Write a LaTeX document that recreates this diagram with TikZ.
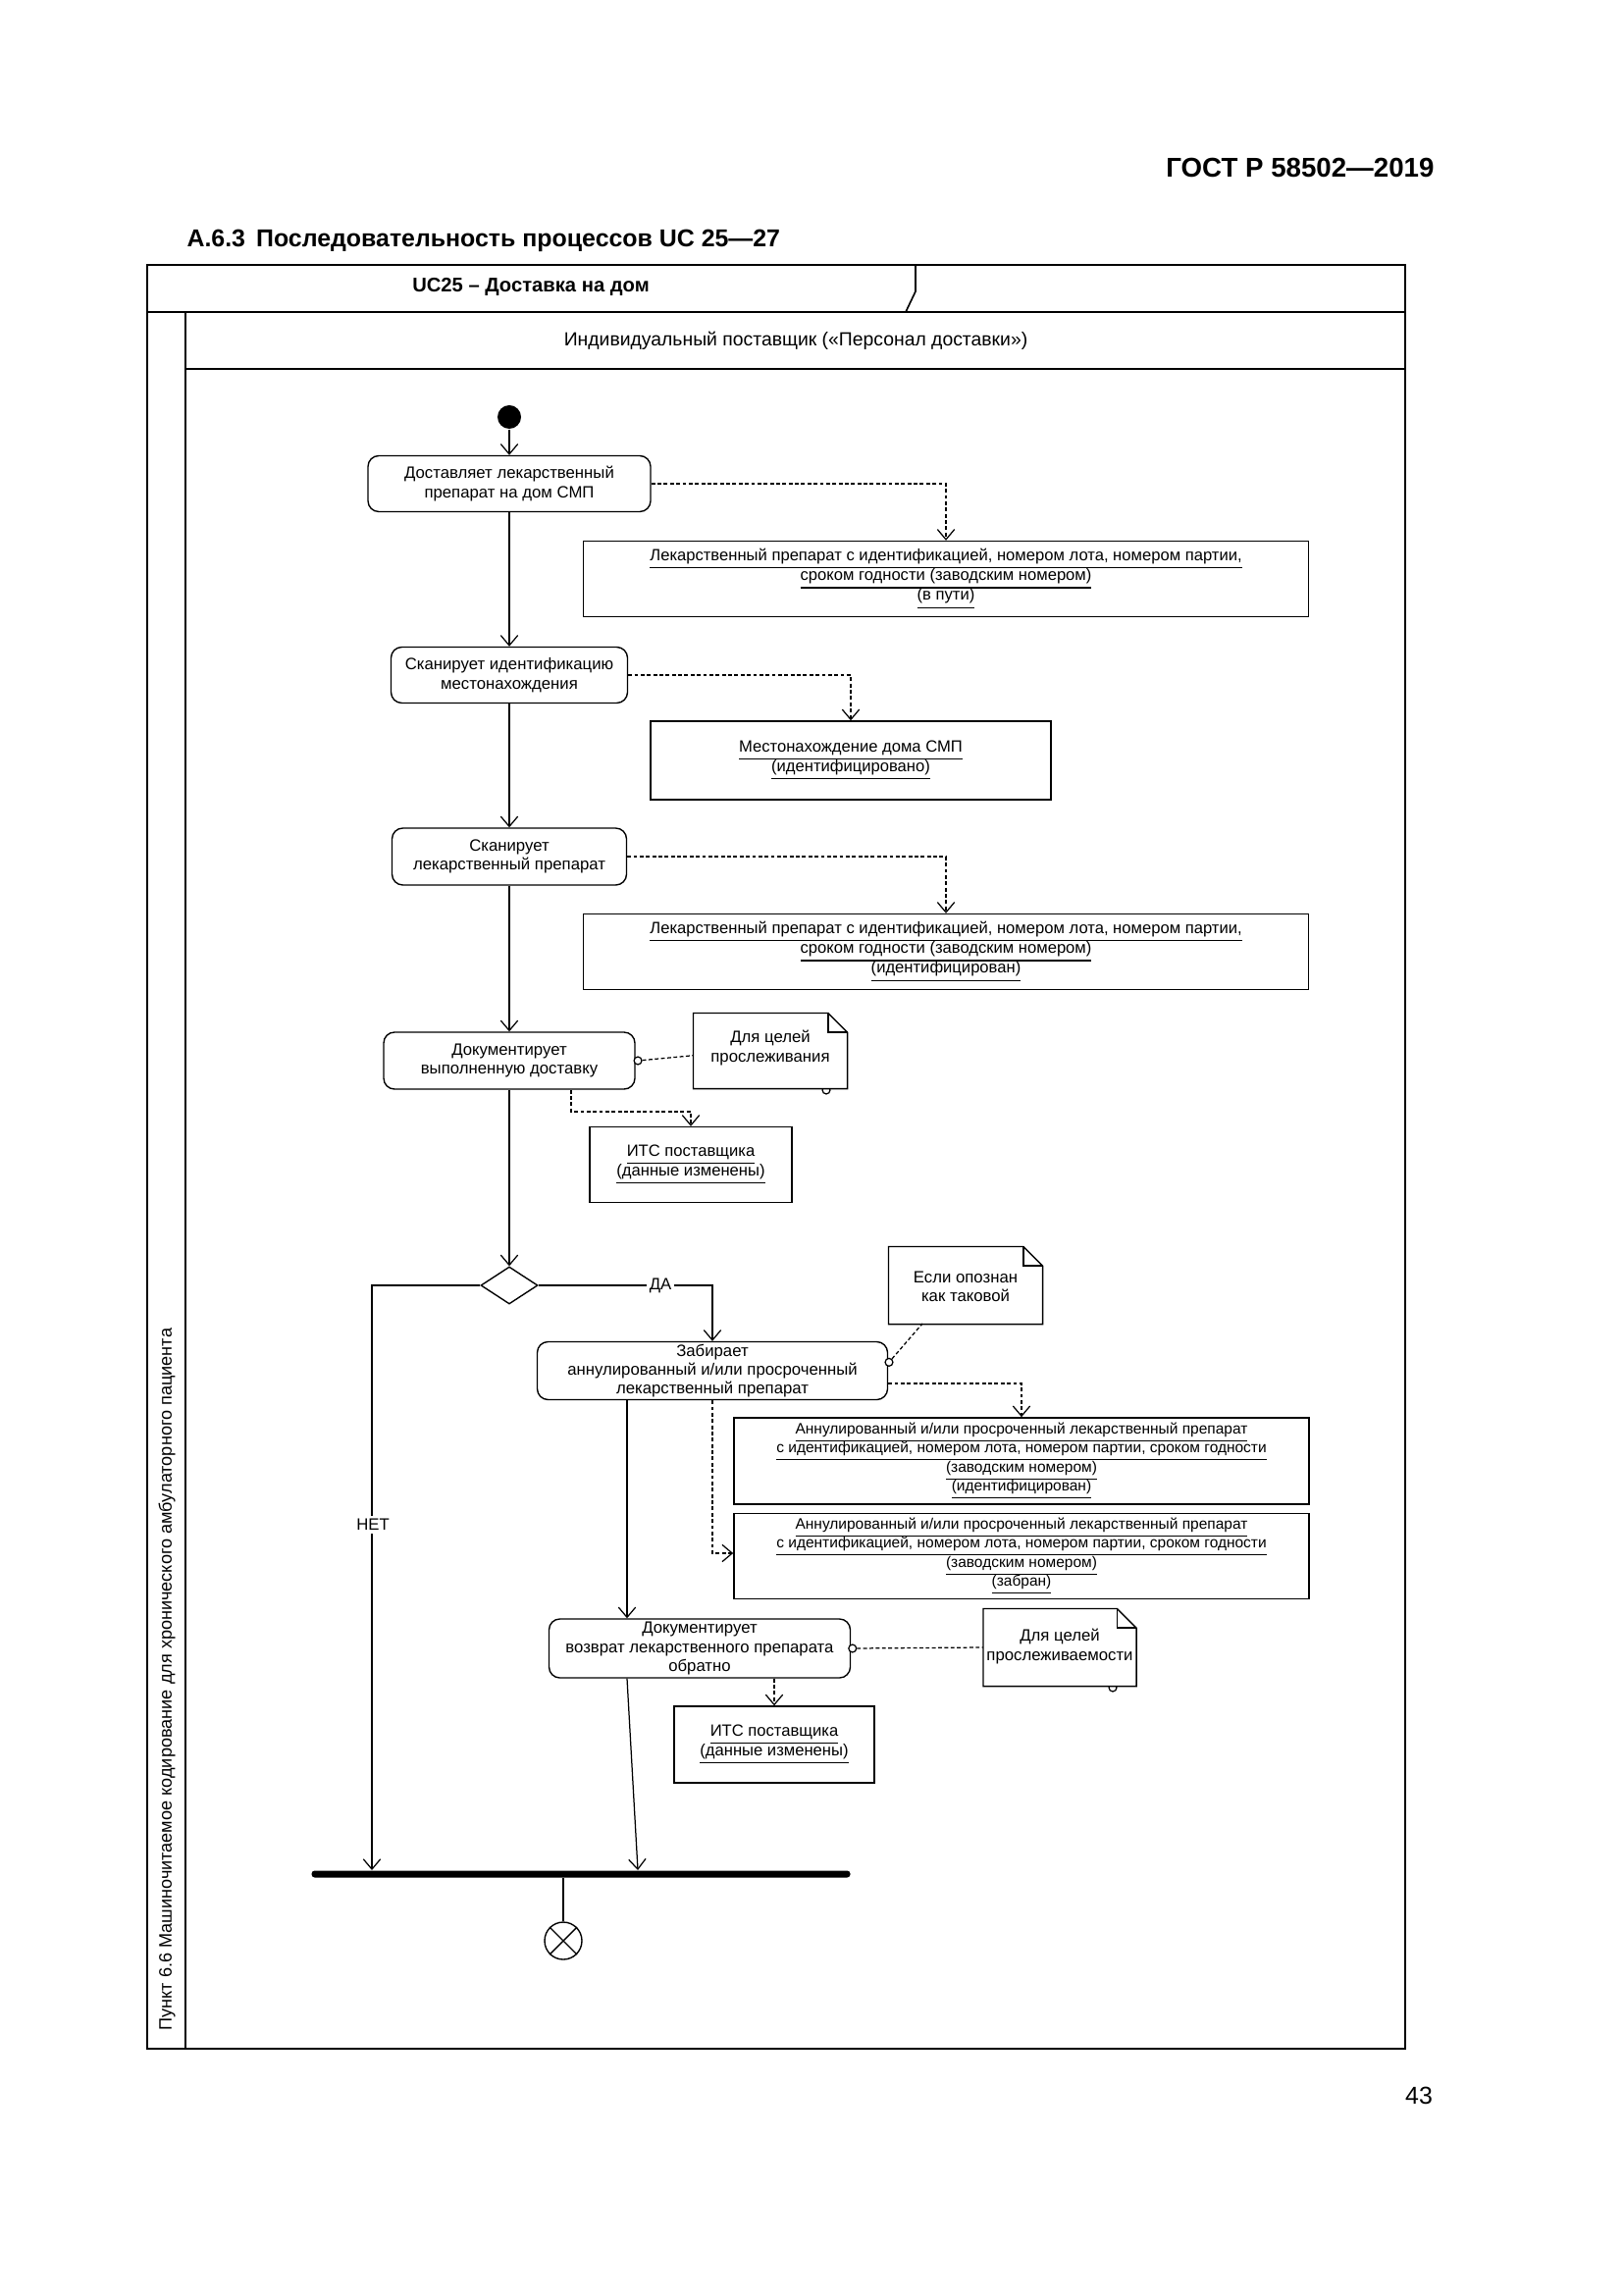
\documentclass[tikz,border=0pt]{standalone}
\usepackage{fontspec}
\setmainfont{Liberation Sans}
\usetikzlibrary{arrows.meta,shapes.geometric,calc}
\newcommand{\ulx}[1]{\underline{#1}}
\newcommand{\actf}{\fontsize{6.05}{7.0}\selectfont\lineskiplimit=-5pt}
\newcommand{\objf}{\fontsize{6.0}{7.3}\selectfont\lineskiplimit=-5pt}
\newcommand{\objsf}{\fontsize{5.6}{7.0}\selectfont\lineskiplimit=-5pt}
\tikzset{
  sz/.style 2 args={minimum width=#1*0.127mm, minimum height=#2*0.127mm},
  act/.style={draw, rounded corners=1.4mm, align=center, font=\actf, inner sep=0pt, line width=0.5pt},
  obj/.style={draw, align=center, font=\objf, inner sep=0pt, line width=0.5pt},
  objs/.style={draw, align=center, font=\objsf, inner sep=0pt, line width=0.6pt},
  notebox/.style={align=center, font=\actf, inner sep=0pt},
  flow/.style={draw, line width=0.45pt, -{Straight Barb[length=1.3mm,width=2.2mm]}},
  oflow/.style={flow, dash pattern=on 1.4pt off 0.9pt},
  anchline/.style={line width=0.45pt, dash pattern=on 1.4pt off 0.9pt},
  pin/.style={circle, draw, fill=white, minimum size=1mm, inner sep=0pt, line width=0.45pt},
  frame/.style={line width=0.9pt},
  lbl/.style={inner sep=1pt, fill=white, font=\actf}
}
\newcommand{\notefold}[1]{%
  \draw[line width=0.5pt, fill=white] (#1.north west) -- ([xshift=-2.5mm]#1.north east) -- ([yshift=-2.5mm]#1.north east) -- (#1.south east) -- (#1.south west) -- cycle;
  \draw[line width=0.5pt] ([xshift=-2.5mm]#1.north east) -- ([xshift=-2.5mm,yshift=-2.5mm]#1.north east) -- ([yshift=-2.5mm]#1.north east);
}
\begin{document}
\begin{tikzpicture}[x=0.127mm,y=-0.127mm]
\useasboundingbox (0,0) rectangle (1654,2339);
\fill[white] (0,0) rectangle (1654,2339);

% page header
\node[anchor=east, font=\fontsize{10}{12}\selectfont\bfseries, inner sep=0] (gost) at (1462,171) {ГОСТ Р 58502—2019};
\node[anchor=west, font=\fontsize{9}{11}\selectfont\bfseries, inner sep=0] (sect) at (190,245) {А.6.3\, Последовательность процессов UC 25—27};
\node[font=\fontsize{9}{11}\selectfont, inner sep=0] (pnum) at (1446,2136) {43};

% frame
\draw[frame] (150,270) rectangle (1432,2088);
\draw[frame] (150,318) -- (1432,318);
\draw[line width=0.6pt] (933,270) -- (933,297) -- (923,318);
\draw[frame] (189,318) -- (189,2088);
\draw[frame] (189,376) -- (1432,376);
\node[font=\fontsize{7.3}{9}\selectfont\bfseries, inner sep=0] (title) at (541,292) {UC25 – Доставка на дом};
\node[font=\fontsize{7.0}{9}\selectfont, inner sep=0] (lane) at (811,347) {Индивидуальный поставщик («Персонал доставки»)};
\node[rotate=90, anchor=west, font=\fontsize{6.55}{8}\selectfont, inner sep=0] (side) at (170,2070) {Пункт 6.6 Машиночитаемое кодирование для хронического амбулаторного пациента};

% activities
\node[circle, fill=black, minimum size=24*0.127mm, inner sep=0] (init) at (519,425) {};
\node[act, sz={288}{57}] (A1) at (519,493) {Доставляет лекарственный\\препарат на дом СМП};
\node[act, sz={241}{57}] (A2) at (519,688) {Сканирует идентификацию\\местонахождения};
\node[act, sz={239}{58}] (A3) at (519,873) {Сканирует\\лекарственный препарат};
\node[act, sz={256}{58}] (A4) at (519,1081) {Документирует\\выполненную доставку};
\node[diamond, draw, line width=0.5pt, sz={58}{38}, inner sep=0, aspect=1.5] (D) at (519,1310) {};
\node[act, sz={357}{59}] (A5) at (726,1397) {Забирает\\аннулированный и/или просроченный\\лекарственный препарат};
\node[act, sz={307}{60}] (A6) at (713,1680) {Документирует\\возврат лекарственного препарата\\обратно};
\node[fill=black, rounded corners=0.4mm, sz={549}{7}, inner sep=0] (bar) at (592,1910) {};
\node[circle, draw, line width=0.5pt, minimum size=38*0.127mm, inner sep=0] (fin) at (574,1978) {};
\draw[line width=0.5pt] (fin.north west) -- (fin.south east) (fin.north east) -- (fin.south west);

% objects
\node[obj, sz={739}{77}] (O1) at (964,590) {\ulx{Лекарственный препарат с идентификацией, номером лота, номером партии,}\\\ulx{сроком годности (заводским номером)}\\\ulx{(в пути)}};
\node[obj, sz={408}{80}] (O2) at (867,775) {\ulx{Местонахождение дома СМП}\\\ulx{(идентифицировано)}};
\node[obj, sz={739}{77}] (O3) at (964,970) {\ulx{Лекарственный препарат с идентификацией, номером лота, номером партии,}\\\ulx{сроком годности (заводским номером)}\\\ulx{(идентифицирован)}};
\node[obj, sz={206}{77}] (O4) at (704,1187) {\ulx{ИТС поставщика}\\\ulx{(данные изменены)}};
\node[objs, sz={586}{88}] (O5) at (1041,1489) {\ulx{Аннулированный и/или просроченный лекарственный препарат}\\\ulx{с идентификацией, номером лота, номером партии, сроком годности}\\\ulx{(заводским номером)}\\\ulx{(идентифицирован)}};
\node[objs, sz={586}{87}] (O6) at (1041,1586) {\ulx{Аннулированный и/или просроченный лекарственный препарат}\\\ulx{с идентификацией, номером лота, номером партии, сроком годности}\\\ulx{(заводским номером)}\\\ulx{(забран)}};
\node[obj, sz={204}{78}] (O7) at (789,1778) {\ulx{ИТС поставщика}\\\ulx{(данные изменены)}};

% notes
\node[circle, draw, line width=0.45pt, minimum size=1mm, inner sep=0] (t1) at (842,1111) {};
\node[circle, draw, line width=0.45pt, minimum size=1mm, inner sep=0] (t3) at (1134,1720) {};
\node[notebox, sz={156}{76}] (N1) at (785,1071) {};
\notefold{N1}
\node[notebox] (N1t) at (785,1068) {Для целей\\прослеживания};
\node[notebox, sz={156}{78}] (N2) at (984,1310) {};
\notefold{N2}
\node[notebox] (N2t) at (984,1311) {Если опознан\\как таковой};
\node[notebox, sz={155}{78}] (N3) at (1080,1679) {};
\notefold{N3}
\node[notebox] (N3t) at (1080,1678) {Для целей\\прослеживаемости};

% helper coordinates
\coordinate (k1) at (582,1133);
\coordinate (k2) at (704,1133);
\coordinate (k3) at (726,1583);
\coordinate (c1) at (639,0);
\coordinate (b1) at (379,1906);
\coordinate (b2) at (650,1906);
\coordinate (n2b) at (940,1349);

% control flows
\draw[flow] (init) -- (A1.north);
\draw[flow] (A1.south) -- (A2.north);
\draw[flow] (A2.south) -- (A3.north);
\draw[flow] (A3.south) -- (A4.north);
\draw[flow] (A4.south) -- (D.north);
\draw[flow] (D.east) -| (A5.north);
\node[lbl] (yes) at (673,1310) {ДА};
\draw[flow] (D.west) -| (b1);
\node[lbl] (no) at (380,1554) {НЕТ};
\draw[flow] (A5.south -| c1) -- (A6.north -| c1);
\draw[flow] (A6.south -| c1) -- (b2);
\draw[line width=0.45pt] (bar.south -| fin) -- (fin.north);

% object flows
\draw[oflow] (A1.east) -| (O1.north);
\draw[oflow] (A2.east) -| (O2.north);
\draw[oflow] (A3.east) -| (O3.north);
\draw[oflow] (A4.south -| k1) -- (k1) -- (k2) -- (O4.north);
\draw[oflow] ([yshift=-1.65mm]A5.east) -| (O5.north);
\draw[oflow] (A5.south -| k3) -- (k3) -- (O6.west |- k3);
\draw[oflow] (A6.south -| O7.north) -- (O7.north);

% note anchors
\node[pin] (p4) at ([xshift=0.3mm]A4.east) {};
\draw[anchline] (p4) -- ([yshift=-0.6mm]N1.west);
\node[pin] (p5) at ([xshift=0.1mm,yshift=1.1mm]A5.east) {};
\draw[anchline] (p5) -- (n2b);
\node[pin] (p6) at ([xshift=0.2mm]A6.east) {};
\draw[anchline] (p6) -- (N3.west);
\end{tikzpicture}
\end{document}
